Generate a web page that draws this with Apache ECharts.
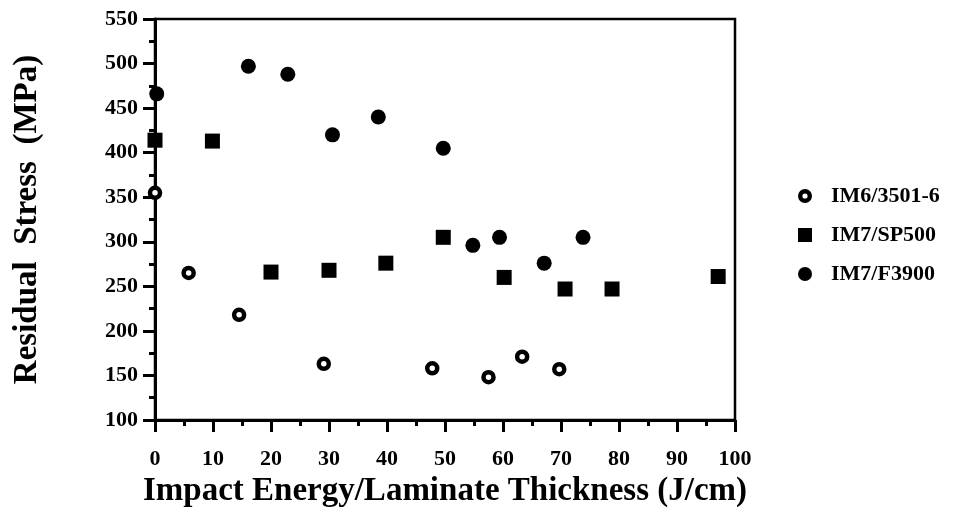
<!DOCTYPE html>
<html>
<head>
<meta charset="utf-8">
<script src="https://cdn.jsdelivr.net/npm/echarts@6/dist/echarts.min.js"></script>
<style>
  html, body { margin: 0; padding: 0; background: #fff; }
  #chart { width: 959px; height: 514px; }
</style>
</head>
<body>
<div id="chart"></div>
<script>
  // IM6/3501-6 (open circles)
  const im6X = [0, 5.8, 14.5, 29.1, 47.8, 57.5, 63.3, 69.7]
  const im6Y = [355, 265, 218, 163, 158, 148, 171, 157]
  // IM7/SP500 (squares)
  const sp500X = [0, 9.9, 20, 30, 39.8, 49.7, 60.2, 70.7, 78.8, 97.1]
  const sp500Y = [414, 413, 266, 268, 276, 305, 260, 247, 247, 261]
  // IM7/F3900 (filled circles)
  const f3900X = [0.3, 16.1, 22.9, 30.6, 38.5, 49.7, 54.8, 59.4, 67.1, 73.8]
  const f3900Y = [466, 497, 488, 420, 440, 405, 296, 305, 276, 305]

  const pairs = (xs, ys) => xs.map((x, i) => [x, ys[i]])
  const font = '"Liberation Serif", "Times New Roman", serif'
  // ring shape for the open-circle legend icon (inner circle wound the other way = hole)
  const ringIcon = 'path://M0,-7A7,7 0 1,1 0,7A7,7 0 1,1 0,-7ZM0,-2.6A2.6,2.6 0 1,0 0,2.6A2.6,2.6 0 1,0 0,-2.6Z'

  const chart = echarts.init(document.getElementById('chart'))
  chart.setOption({
    animation: false,
    backgroundColor: '#fff',
    grid: {
      left: 155, right: 224, top: 19, bottom: 94,
      show: true, borderColor: '#000', borderWidth: 2.5
    },
    legend: {
      orient: 'vertical',
      left: 793,
      top: 180,
      itemWidth: 14,
      itemHeight: 14,
      itemGap: 17,
      textStyle: {fontFamily: font, fontWeight: 'bold', fontSize: 22, color: '#000', padding: [0, 0, 0, 14]},
      data: [
        {name: 'IM6/3501-6', icon: ringIcon, itemStyle: {color: '#000', borderWidth: 0}},
        {name: 'IM7/SP500'},
        {name: 'IM7/F3900'}
      ]
    },
    xAxis: {
      type: 'value',
      min: 0, max: 100, interval: 10,
      name: 'Impact Energy/Laminate Thickness (J/cm)',
      nameLocation: 'middle',
      nameGap: 55,
      nameTextStyle: {fontFamily: font, fontWeight: 'bold', fontSize: 33, color: '#000'},
      axisLine: {lineStyle: {color: '#000', width: 3}},
      axisTick: {inside: false, length: 12, lineStyle: {color: '#000', width: 3}},
      minorTick: {show: true, splitNumber: 2, length: 6, lineStyle: {color: '#000', width: 3}},
      axisLabel: {fontFamily: font, fontWeight: 'bold', fontSize: 22, color: '#000', margin: 28},
      splitLine: {show: false}
    },
    yAxis: {
      type: 'value',
      min: 100, max: 550, interval: 50,
      name: 'Residual  Stress  (MPa)',
      nameLocation: 'middle',
      nameGap: 111,
      nameTextStyle: {fontFamily: font, fontWeight: 'bold', fontSize: 33, color: '#000'},
      axisLine: {lineStyle: {color: '#000', width: 3}},
      axisTick: {inside: false, length: 12, lineStyle: {color: '#000', width: 3}},
      minorTick: {show: true, splitNumber: 2, length: 6, lineStyle: {color: '#000', width: 3}},
      axisLabel: {fontFamily: font, fontWeight: 'bold', fontSize: 22, color: '#000', margin: 17},
      splitLine: {show: false}
    },
    series: [
      {
        name: 'IM6/3501-6',
        type: 'scatter',
        symbol: 'circle',
        symbolSize: 10,
        itemStyle: {color: '#fff', borderColor: '#000', borderWidth: 4.5, opacity: 1},
        data: pairs(im6X, im6Y)
      },
      {
        name: 'IM7/SP500',
        type: 'scatter',
        symbol: 'rect',
        symbolSize: 15,
        itemStyle: {color: '#000', opacity: 1},
        data: pairs(sp500X, sp500Y)
      },
      {
        name: 'IM7/F3900',
        type: 'scatter',
        symbol: 'circle',
        symbolSize: 15,
        itemStyle: {color: '#000', opacity: 1},
        data: pairs(f3900X, f3900Y)
      }
    ]
  })
</script>
</body>
</html>
